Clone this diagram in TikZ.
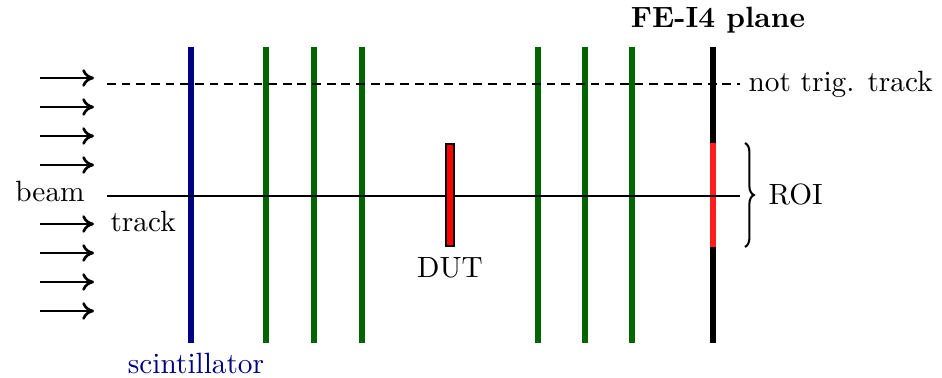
\documentclass[tikz,border=0pt]{standalone}
\usetikzlibrary{arrows.meta,decorations.pathreplacing}
\definecolor{scintblue}{RGB}{0,0,128}
\definecolor{planegreen}{RGB}{0,100,0}
\definecolor{roired}{RGB}{255,30,30}
\begin{document}
\begin{tikzpicture}[x=0.012cm,y=-0.012cm,
  every node/.style={font=\fontsize{10}{12}\selectfont, inner sep=0pt},
  beamarrow/.style={-{To[length=4pt,width=6pt]}, line width=0.9pt},
  planeline/.style={line width=2.1pt},
  trackline/.style={line width=0.9pt}]
\useasboundingbox (0,0) rectangle (942,378);
% beam arrows
\foreach \y in {78,107,136,165,224,253,282,311}
  \draw[beamarrow] (40,\y) -- (94,\y);
\node (beam) at (50,192) {beam};
% tracks
\coordinate (tstart) at (107,196);
\coordinate (tend) at (740,196);
\coordinate (dstart) at (107,84);
\coordinate (dend) at (740,84);
% scintillator
\draw[planeline, scintblue] (191,47) coordinate (s1) -- (191,343) coordinate (s2);
\node[text=scintblue] (scint) at (196,364) {scintillator};
% telescope planes
\foreach \x in {266,314,362,538,585,632}
  \draw[planeline, planegreen] (\x,47) -- (\x,343);
% FE-I4 plane
\draw[planeline, black] (713,47) coordinate (f1) -- (713,343) coordinate (f2);
\draw[planeline, roired] (713,143) coordinate (r1) -- (713,247) coordinate (r2);
\node[font=\fontsize{10}{12}\selectfont\bfseries] (fe) at (718,20) {FE-I4 plane};
% tracks drawn
\draw[trackline] (tstart) -- (tend);
\draw[trackline, dash pattern=on 3pt off 2pt] (dstart) -- (dend);
\node[anchor=north west] (track) at (110,211) {track};
\node[anchor=west] (ntt) at (748,84) {not trig. track};
% DUT
\node[draw=black, fill=red, line width=0.8pt, inner sep=0pt,
  minimum width=2.8pt, minimum height=35pt] (dut) at (450,195) {};
\node (duttxt) at (450,268) {DUT};
% ROI brace
\draw[decorate, decoration={brace, amplitude=3pt}, line width=0.7pt] (745,143) -- (745,247);
\node[anchor=west] (roi) at (768,195) {ROI};
\end{tikzpicture}
\end{document}
